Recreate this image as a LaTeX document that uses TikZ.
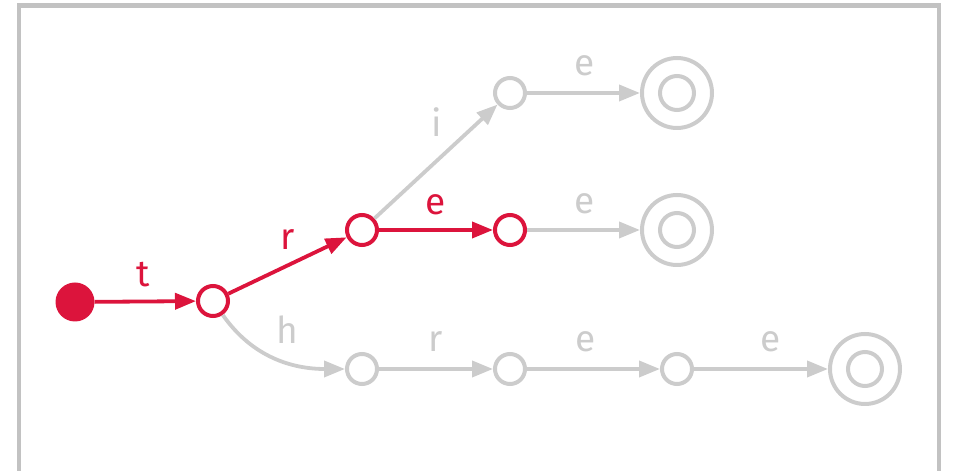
\documentclass[tikz,border=0pt]{standalone}
\usepackage{fontspec}
\setmainfont{Fira Sans}
\usetikzlibrary{arrows.meta}
\definecolor{hot}{HTML}{DC143C}
\definecolor{dim}{HTML}{CCCCCC}
\definecolor{framegray}{HTML}{C2C2C2}
\begin{document}
\begin{tikzpicture}[x=1pt,y=1pt,
  state/.style={circle,draw=#1,line width=4pt,minimum size=30pt,inner sep=0pt,fill=white},
  accept/.style={circle,draw=dim,line width=4pt,minimum size=70pt,inner sep=0pt,
    path picture={\draw[dim,line width=4pt] (path picture bounding box.center) circle (17pt);}},
  startstate/.style={circle,fill=hot,draw=none,minimum size=39pt,inner sep=0pt},
  trans/.style={line width=3.8pt,draw=#1,-{Triangle[length=21pt,width=16pt]}},
  lbl/.style={font=\fontsize{37}{37}\selectfont,text=#1,inner sep=0pt}
]
\useasboundingbox (0,0) rectangle (954,471);
\draw[framegray,line width=4.5pt] (19,-30) rectangle (939,465.5);

% states
\node[startstate] (s) at (75,169) {};
\node[state=hot] (q1) at (213,170) {};
\node[state=hot] (q2) at (362,241) {};
\node[state=dim] (q3) at (510,378) {};
\node[accept] (q4) at (677,378) {};
\node[state=hot] (q5) at (510,241) {};
\node[accept] (q6) at (677,241) {};
\node[state=dim] (q7) at (362,102) {};
\node[state=dim] (q8) at (510,102) {};
\node[state=dim] (q9) at (677,102) {};
\node[accept] (q10) at (865,102) {};

% transitions
\draw[trans=hot] (s) -- node[lbl=hot,xshift=-2pt,yshift=27pt] {t} (q1);
\draw[trans=hot] (q1) -- node[lbl=hot,yshift=26pt] {r} (q2);
\draw[trans=dim] (q2) -- node[lbl=dim,xshift=1pt,yshift=39pt] {i} (q3);
\draw[trans=dim] (q3) -- node[lbl=dim,xshift=1pt,yshift=27pt] {e} (q4);
\draw[trans=hot] (q2) -- node[lbl=hot,yshift=25pt] {e} (q5);
\draw[trans=dim] (q5) -- node[lbl=dim,xshift=1pt,yshift=26pt] {e} (q6);
\draw[trans=dim] (q1) to[out=-55,in=180] node[lbl=dim,pos=0.45,xshift=18pt,yshift=26pt] {h} (q7);
\draw[trans=dim] (q7) -- node[lbl=dim,yshift=27pt] {r} (q8);
\draw[trans=dim] (q8) -- node[lbl=dim,xshift=-8pt,yshift=27pt] {e} (q9);
\draw[trans=dim] (q9) -- node[lbl=dim,xshift=10pt,yshift=27pt] {e} (q10);
\end{tikzpicture}
\end{document}
